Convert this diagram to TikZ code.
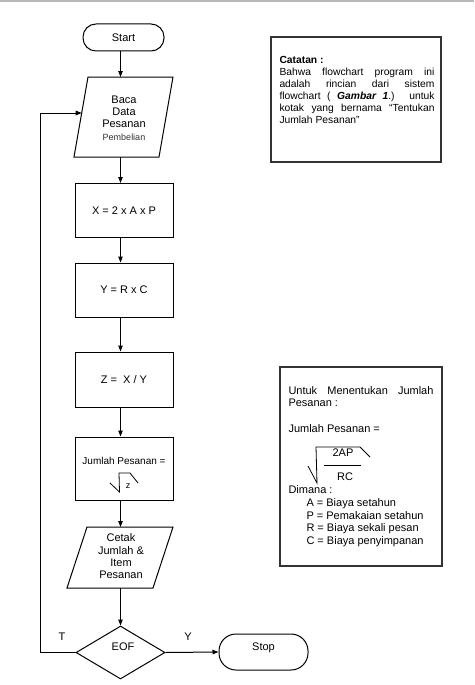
\documentclass[tikz,border=0pt]{standalone}
\usepackage{fontspec}
\setmainfont{Liberation Sans}
\usetikzlibrary{arrows.meta,shapes.geometric}
\begin{document}
\begin{tikzpicture}[x=1pt,y=-1pt,
  line width=1pt,
  every node/.style={font=\fontsize{11}{12.3}\selectfont, inner sep=0pt},
  arr/.style={-{Triangle[length=6pt,width=4.5pt]}},
  procbox/.style={draw, minimum width=98pt},
  term/.style={draw, rounded corners=13pt},
  note/.style={draw, line width=1.2pt, draw=black!80},
  txt/.style={anchor=base west},
]
\useasboundingbox (0,0) rectangle (474,685);
\fill[black!28] (0,0) rectangle (474,2.5);

\coordinate (col) at (120.5,0);
\coordinate (loopx) at (40,0);

% Start
\node[term, minimum width=81pt, minimum height=27pt] (start) at (123.5,37.5) {Start};

% Baca parallelogram
\draw (88,77) -- (173,77) -- (159,157) -- (74,157) -- cycle;
\coordinate (bacaT) at (120.5,77);
\coordinate (bacaB) at (120.5,157);
\coordinate (bacain) at (81.7,113);
\node[align=center] (baca) at (124,118) {Baca\\Data\\Pesanan\\{\fontsize{9}{12.3}\selectfont\color{black!80}Pembelian}};

% process boxes
\node[procbox, minimum height=54pt] (xbox) at (124,210.5) {X = 2 x A x P};
\node[procbox, minimum height=54pt] (ybox) at (124,290) {Y = R x C};
\node[procbox, minimum height=55pt] (zbox) at (124,379.5) {Z =\ \ X / Y};
\node[procbox, minimum height=63pt] (jbox) at (124,468.5) {};
\node[font=\fontsize{10}{12}\selectfont] (jtext) at (124,461) {Jumlah Pesanan =};
\draw[line width=0.8pt] (110,483) -- (119.5,492) -- (119,473) -- (130,473) -- (138,483);
\node[font=\fontsize{9}{10}\selectfont] (ztext) at (128,486) {z};

% Cetak parallelogram
\draw (87,527) -- (173,527) -- (153,588) -- (67,588) -- cycle;
\coordinate (cetakT) at (120.5,527);
\coordinate (cetakB) at (120.5,588);
\node[align=center] (cetak) at (121,556.5) {Cetak\\Jumlah \&\\Item\\Pesanan};

% Decision
\node[draw, diamond, minimum width=89pt, minimum height=53pt] (eof) at (120.5,652.5) {};
\node (eoftext) at (123,647) {EOF};

% Stop
\node[term, rounded corners=17pt, minimum width=89pt, minimum height=36pt] (stop) at (263.5,652) {};
\node (stoptext) at (263.5,648) {Stop};

% connectors
\draw[arr] (start.south -| col) -- (bacaT);
\draw[arr] (bacaB) -- (xbox.north -| col);
\draw[arr] (xbox.south -| col) -- (ybox.north -| col);
\draw[arr] (ybox.south -| col) -- (zbox.north -| col);
\draw[arr] (zbox.south -| col) -- (jbox.north -| col);
\draw[arr] (jbox.south -| col) -- (cetakT);
\draw[arr] (cetakB) -- (eof.north);
\draw[arr] (eof.east) -- (stop.west);
\draw[arr] (eof.west) -- (eof.west -| loopx) |- (bacain);

\node (tlab) at (62,637) {T};
\node (ylab) at (188,637) {Y};

% Catatan box
\node[note, minimum width=170pt, minimum height=125pt] (cat) at (356,99.5) {};
\node[anchor=north west, align=left, font=\fontsize{10.3}{12}\selectfont] (cattext) at (279,56) {%
\textbf{Catatan :}\\
\makebox[155pt][s]{Bahwa flowchart program ini}\\
\makebox[155pt][s]{adalah rincian dari sistem}\\
\makebox[155pt][s]{flowchart ( \textbf{\textit{Gambar 1}}.) untuk}\\
\makebox[155pt][s]{kotak yang bernama “Tentukan}\\
Jumlah Pesanan”};

% Right formula box
\node[note, minimum width=162pt, minimum height=199pt] (rbox) at (361,466.5) {};
\node[txt] (r1) at (288,394) {\makebox[145pt][s]{Untuk Menentukan Jumlah}};
\node[txt] (r2) at (288,406) {Pesanan :};
\node[txt] (r3) at (288,432) {Jumlah Pesanan =};
\draw[line width=0.8pt] (308,466) -- (317,483) -- (316,447) -- (360,447) -- (370,457);
\draw[line width=0.8pt] (324,465) -- (361,465);
\node (num) at (343,453) {2AP};
\node (den) at (345,477) {RC};
\node[txt] (r4) at (288,493) {Dimana :};
\node[txt] (r5) at (306,506) {A = Biaya setahun};
\node[txt] (r6) at (306,519) {P = Pemakaian setahun};
\node[txt] (r7) at (306,531) {R = Biaya sekali pesan};
\node[txt] (r8) at (306,544) {C = Biaya penyimpanan};
\end{tikzpicture}
\end{document}
